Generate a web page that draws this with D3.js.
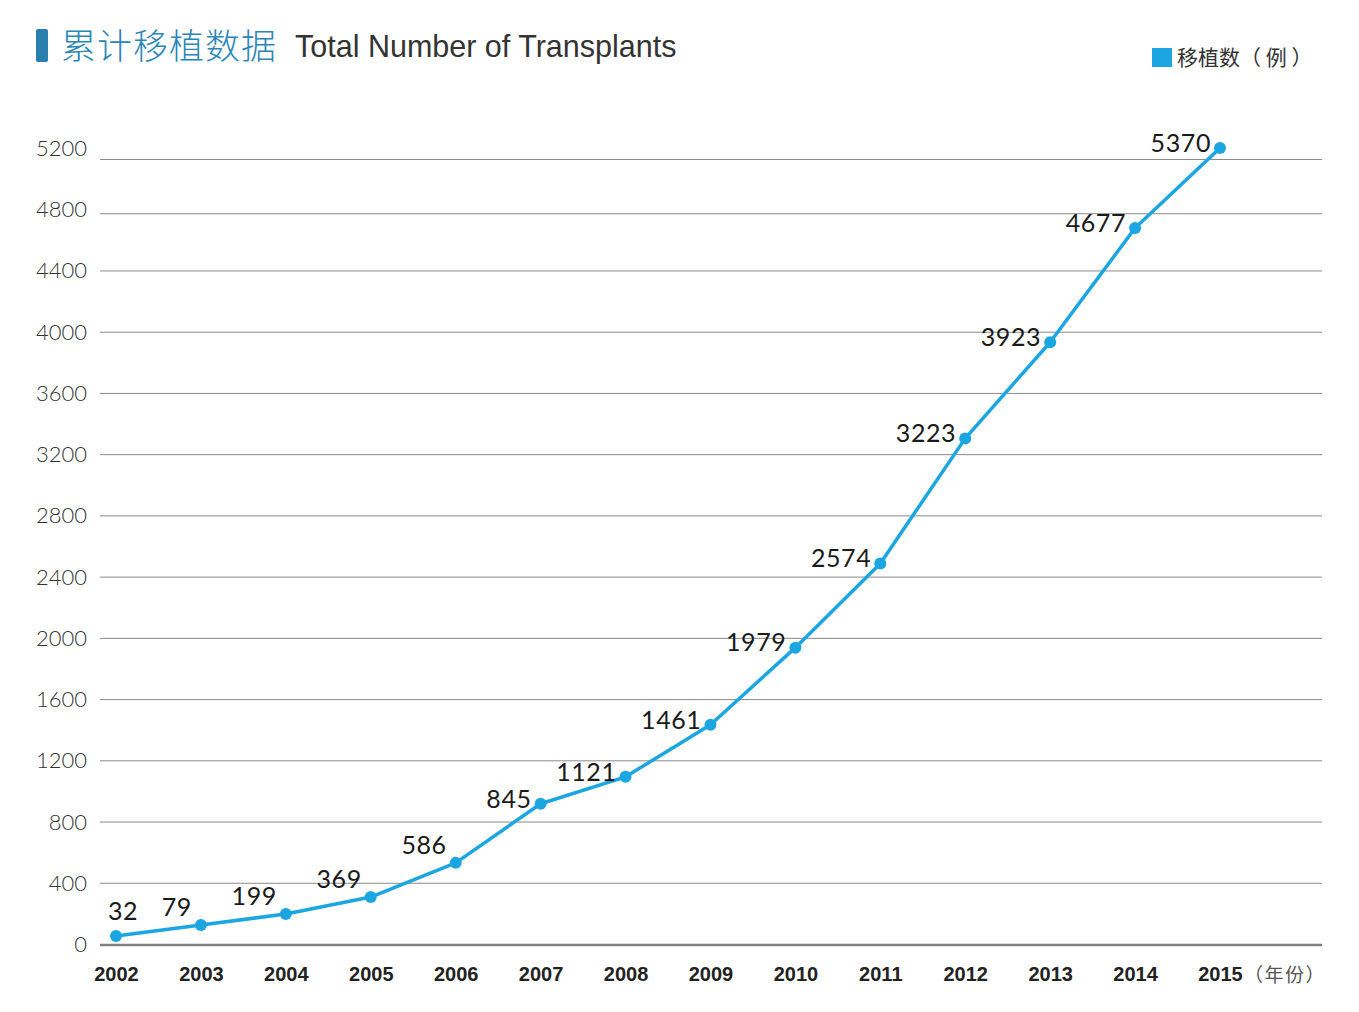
<!DOCTYPE html>
<html><head><meta charset="utf-8">
<script src="https://cdn.jsdelivr.net/npm/d3@7"></script>
<style>
html,body{margin:0;padding:0;background:#fff;}
</style></head>
<body>
<svg id="chart" width="1359" height="1012"></svg>
<script>
// ---- data ----
const years = ["2002","2003","2004","2005","2006","2007","2008","2009","2010","2011","2012","2013","2014","2015"];
// plotted point values (read from the point positions)
const plotValues = [52, 124, 196, 307, 530, 916, 1092, 1432, 1936, 2486, 3303, 3931, 4677, 5200];
// data labels printed next to the points
const labelTexts = ["32","79","199","369","586","845","1121","1461","1979","2574","3223","3923","4677","5370"];
const yTicks = [0,400,800,1200,1600,2000,2400,2800,3200,3600,4000,4400,4800,5200];
const titleZh = "累计移植数据";
const titleEn = "Total Number of Transplants";
const legendLabel = "移植数（ 例 ）";
const xUnit = "（年份）";

// ---- drawing ----
const svg = d3.select("#chart");
const blue = "#1ba6e2";
const x = d3.scalePoint().domain(years).range([116, 1220]);
const y = d3.scaleLinear().domain([0, 5200]).range([944, 148]);
const gridX0 = 100, gridX1 = 1322;

// gridlines
svg.append("g").selectAll("line").data(yTicks.filter(d => d > 0)).join("line")
  .attr("x1", gridX0).attr("x2", gridX1)
  .attr("y1", d => y(d) + 0.5 + (d >= 4800 ? (d===5200?11:4) : 0)).attr("y2", d => y(d) + 0.5 + (d >= 4800 ? (d===5200?11:4) : 0))
  .attr("stroke", "#8a8a8a").attr("stroke-width", 1);

// baseline
svg.append("line").attr("x1", gridX0).attr("x2", gridX1)
  .attr("y1", y(0) + 1).attr("y2", y(0) + 1)
  .attr("stroke", "#808080").attr("stroke-width", 2.5);

// y axis labels
const yAxis = d3.axisLeft(y).tickValues(yTicks).tickFormat(d3.format("d")).tickSize(0).tickPadding(0);
const gy = svg.append("g").attr("transform", "translate(87,0)").call(yAxis);
gy.select(".domain").remove();
gy.selectAll("text").attr("font-family", "Lato, 'DejaVu Sans', sans-serif")
  .attr("font-weight", 300).attr("font-size", 22).attr("fill", "#333").attr("dy", "0.34em");

// x axis labels
const xAxis = d3.axisBottom(x).tickSize(0).tickPadding(0);
const gx = svg.append("g").attr("transform", "translate(0,967)").call(xAxis);
gx.select(".domain").remove();
gx.selectAll("text").attr("font-family", "'Liberation Sans', Arial, sans-serif")
  .attr("font-weight", "bold").attr("font-size", 20).attr("fill", "#222").attr("dy", "0.7em");
svg.append("text").attr("x", x("2015") + 24).attr("y", 982)
  .attr("font-family", "'Noto Sans CJK SC', sans-serif").attr("font-size", 19)
  .attr("letter-spacing", 1.5).attr("fill", "#555").text(xUnit);

// line
const pts = years.map((yr, i) => ({yr, v: plotValues[i], label: labelTexts[i], i}));
svg.append("path").datum(pts)
  .attr("d", d3.line().x(d => x(d.yr)).y(d => y(d.v)))
  .attr("fill", "none").attr("stroke", blue).attr("stroke-width", 3.5)
  .attr("stroke-linejoin", "round");
svg.append("g").selectAll("circle").data(pts).join("circle")
  .attr("cx", d => x(d.yr)).attr("cy", d => y(d.v)).attr("r", 6).attr("fill", blue);

// data labels
svg.append("g").selectAll("text").data(pts).join("text")
  .attr("x", d => d.i === 0 ? x(d.yr) + 7 : x(d.yr) - 9)
  .attr("y", d => y(d.v) + (d.i === 0 ? -25 : d.i <= 4 ? -18 : -5))
  .attr("text-anchor", d => d.i === 0 ? "middle" : "end")
  .attr("dy", "0.35em")
  .attr("font-family", "Lato, 'DejaVu Sans', sans-serif").attr("font-size", 25)
  .attr("letter-spacing", "0.6").attr("fill", "#1a1a1a")
  .text(d => d.label);

// title
svg.append("rect").attr("x", 36).attr("y", 29).attr("width", 12).attr("height", 33)
  .attr("rx", 2).attr("fill", "#2b7fae");
svg.append("text").attr("x", 61).attr("y", 59)
  .attr("font-family", "'Noto Sans CJK SC', sans-serif").attr("font-weight", 300)
  .attr("font-size", 35).attr("letter-spacing", 1).attr("fill", "#2b86b8").text(titleZh);
svg.append("text").attr("x", 295).attr("y", 57)
  .attr("font-family", "'Liberation Sans', Arial, sans-serif")
  .attr("font-size", 30.5).attr("fill", "#333").text(titleEn);

// legend
svg.append("rect").attr("x", 1152).attr("y", 48).attr("width", 20).attr("height", 19).attr("fill", blue);
svg.append("text").attr("x", 1177).attr("y", 65)
  .attr("font-family", "'Noto Sans CJK SC', sans-serif").attr("font-size", 21)
  .attr("fill", "#333").text(legendLabel);
</script>
</body></html>
